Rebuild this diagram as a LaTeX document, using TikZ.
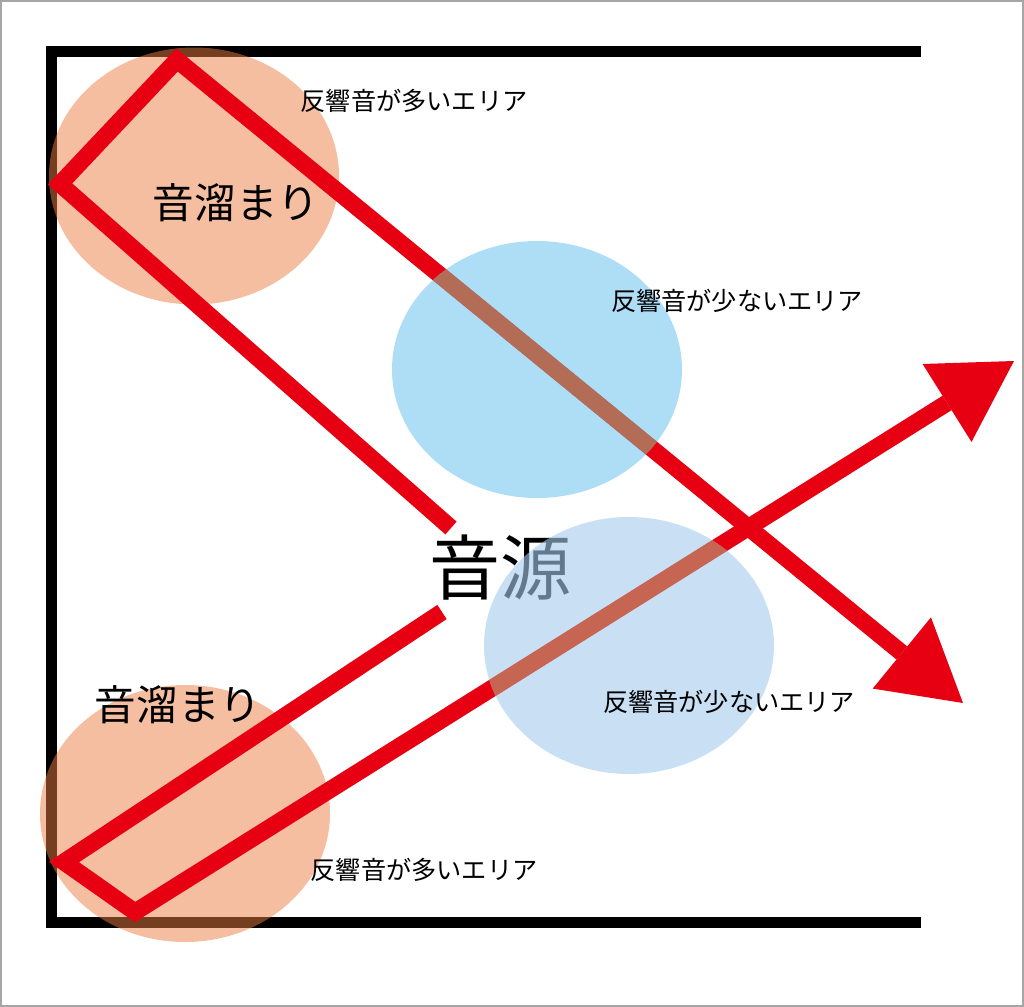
\documentclass[tikz,border=0pt]{standalone}
\usepackage{fontspec}
\setmainfont{Noto Sans CJK JP}
\usetikzlibrary{arrows.meta}
\definecolor{rayred}{RGB}{230,0,18}
\definecolor{poolorange}{RGB}{237,125,66}
\definecolor{fewblue}{RGB}{120,198,240}
\definecolor{fewblueb}{RGB}{165,203,236}
\definecolor{raythrough}{RGB}{179,108,86}
\definecolor{raythroughb}{RGB}{198,102,82}
\begin{document}
\begin{tikzpicture}[
       x = 0.5pt, y = -0.5pt,
wall/.style = {line width=5.5pt, line join=miter},% room walls
 ray/.style = {line width=8.5pt, line join=miter,
               -{Triangle[length=39.5pt, width=46pt, line width=0pt]}},
pool/.style = {fill=poolorange, opacity=0.5},% areas with much reverb
 few/.style = {fill=fewblue, opacity=0.6},% areas with little reverb
fewb/.style = {fill=fewblueb, opacity=0.6},
area/.style = {font=\fontsize{12.6}{15}\selectfont, inner sep=0pt},
 big/.style = {font=\fontsize{20.8}{25}\selectfont, inner sep=0pt},
 src/.style = {font=\fontsize{35.5}{40}\selectfont, inner sep=0pt},
                    ]
\useasboundingbox (0,0) rectangle (1024,1007);
\draw[gray!70, line width=0.75pt] (1,1) rectangle (1023,1006);
% walls
\draw[wall] (921,51) -- (51,51) -- (51,922) -- (921,922);
% corners where the sound gathers
\path[pool] (194,176) ellipse [x radius=145, y radius=128.5];
\path[pool] (185,813.5) ellipse [x radius=145, y radius=128.5];
% sound paths
\coordinate (a0) at (451,528);
\coordinate (a1) at (60,184);
\coordinate (a2) at (177,60);
\coordinate (a3) at (963,703);
\coordinate (b0) at (442,612);
\coordinate (b1) at (64,862);
\coordinate (b2) at (135,912);
\coordinate (b3) at (1014,361);
\draw[ray, rayred] (a0) -- (a1) -- (a2) -- (a3);
\draw[ray, rayred] (b0) -- (b1) -- (b2) -- (b3);
\node[src] (source) at (500,568) {音源};
% quiet areas
\path[few] (537,369.5) ellipse [x radius=145, y radius=128.5];
\path[fewb] (629,645.5) ellipse [x radius=145, y radius=128.5];
\begin{scope}
\clip (537,369.5) ellipse [x radius=145, y radius=128.5];
\draw[ray, raythrough] (a0) -- (a1) -- (a2) -- (a3);
\end{scope}
\begin{scope}
\clip (629,645.5) ellipse [x radius=145, y radius=128.5];
\draw[ray, raythroughb] (b0) -- (b1) -- (b2) -- (b3);
\end{scope}
% labels
\node[area] (manytop) at (414,101) {反響音が多いエリア};
\node[big]  (pooltop) at (236,203) {音溜まり};
\node[area] (fewtop)  at (737,301) {反響音が少ないエリア};
\node[big]  (poolbot) at (178,705) {音溜まり};
\node[area] (fewbot)  at (729,702) {反響音が少ないエリア};
\node[area] (manybot) at (424,870) {反響音が多いエリア};
\end{tikzpicture}
\end{document}
